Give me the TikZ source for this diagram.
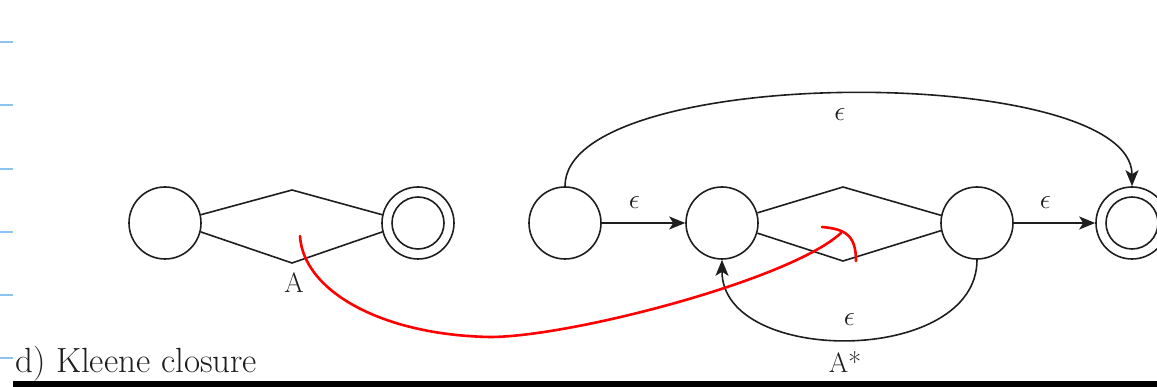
\RequirePackage{fix-cm}
\documentclass[tikz,border=0pt]{standalone}
\usetikzlibrary{arrows.meta}
\definecolor{tickblue}{RGB}{140,195,240}
\definecolor{ink}{RGB}{30,30,30}
\begin{document}
\begin{tikzpicture}[x=1pt,y=-1pt,
  state/.style={circle, draw=ink, line width=1.6pt, minimum size=72pt, inner sep=0pt},
  trans/.style={draw=ink, line width=1.6pt, line join=round},
  arr/.style={trans, -{Stealth[length=16pt,width=13pt,inset=4pt]}},
  lbl/.style={font=\fontsize{28}{30}\selectfont, text=ink, inner sep=0pt},
  redpen/.style={red, line width=2.6pt, line cap=round, line join=round}]
\useasboundingbox (0,0) rectangle (1157,387);

% margin ticks
\foreach \yy in {42,105,169,232,295,358}
  \draw[tickblue, line width=1.6pt] (0,\yy) -- (13,\yy);

% machine for A
\node[state] (a) at (165,223) {};
\node[state] (b) at (418,223) {};
\draw[ink, line width=1.6pt] (b.center) circle (26pt);
\coordinate (atop) at (292,190);
\coordinate (abot) at (292,263);
\draw[trans] (a.13) -- (atop) -- (b.167);
\draw[trans] (a.-14) -- (abot) -- (b.-166);
\node[lbl, anchor=base] (la) at (294,293) {A};

% machine for A*
\node[state] (s) at (565,223) {};
\node[state] (p) at (722,223) {};
\node[state] (q) at (977,223) {};
\node[state] (f) at (1132,223) {};
\draw[ink, line width=1.6pt] (f.center) circle (26pt);
\coordinate (ptop) at (843,187);
\coordinate (pbot) at (843,261);
\draw[trans] (p.16) -- (ptop) -- (q.168);
\draw[trans] (p.-16) -- (pbot) -- (q.-168);

\draw[arr] (s) -- node[lbl, above=14pt, xshift=-9pt] {$\epsilon$} (p);
\draw[arr] (q) -- node[lbl, above=14pt, xshift=-9pt] {$\epsilon$} (f);
\draw[arr] (s.north) .. controls (565,63) and (1132,63) .. node[lbl, pos=0.49, below=14pt] {$\epsilon$} (f.north);
\draw[arr] (q.south) .. controls (977,366) and (722,366) .. node[lbl, midway, above=13pt] {$\epsilon$} (p.south);
\node[lbl, anchor=base] (lstar) at (845,373) {A*};

% caption and rule
\node[font=\fontsize{35}{38}\selectfont, text=ink, anchor=base west, inner sep=0pt] (cap) at (15,373) {d) Kleene closure};
\fill[black] (13,380.5) rectangle (1157,387);

% red annotation
\draw[redpen] (300,236) .. controls (303,290) and (380,335) .. (490,337)
  .. controls (570,337) and (790,280) .. (841,233);
\draw[redpen] (822,227) .. controls (845,229) and (856,235) .. (856,261);
\end{tikzpicture}
\end{document}
